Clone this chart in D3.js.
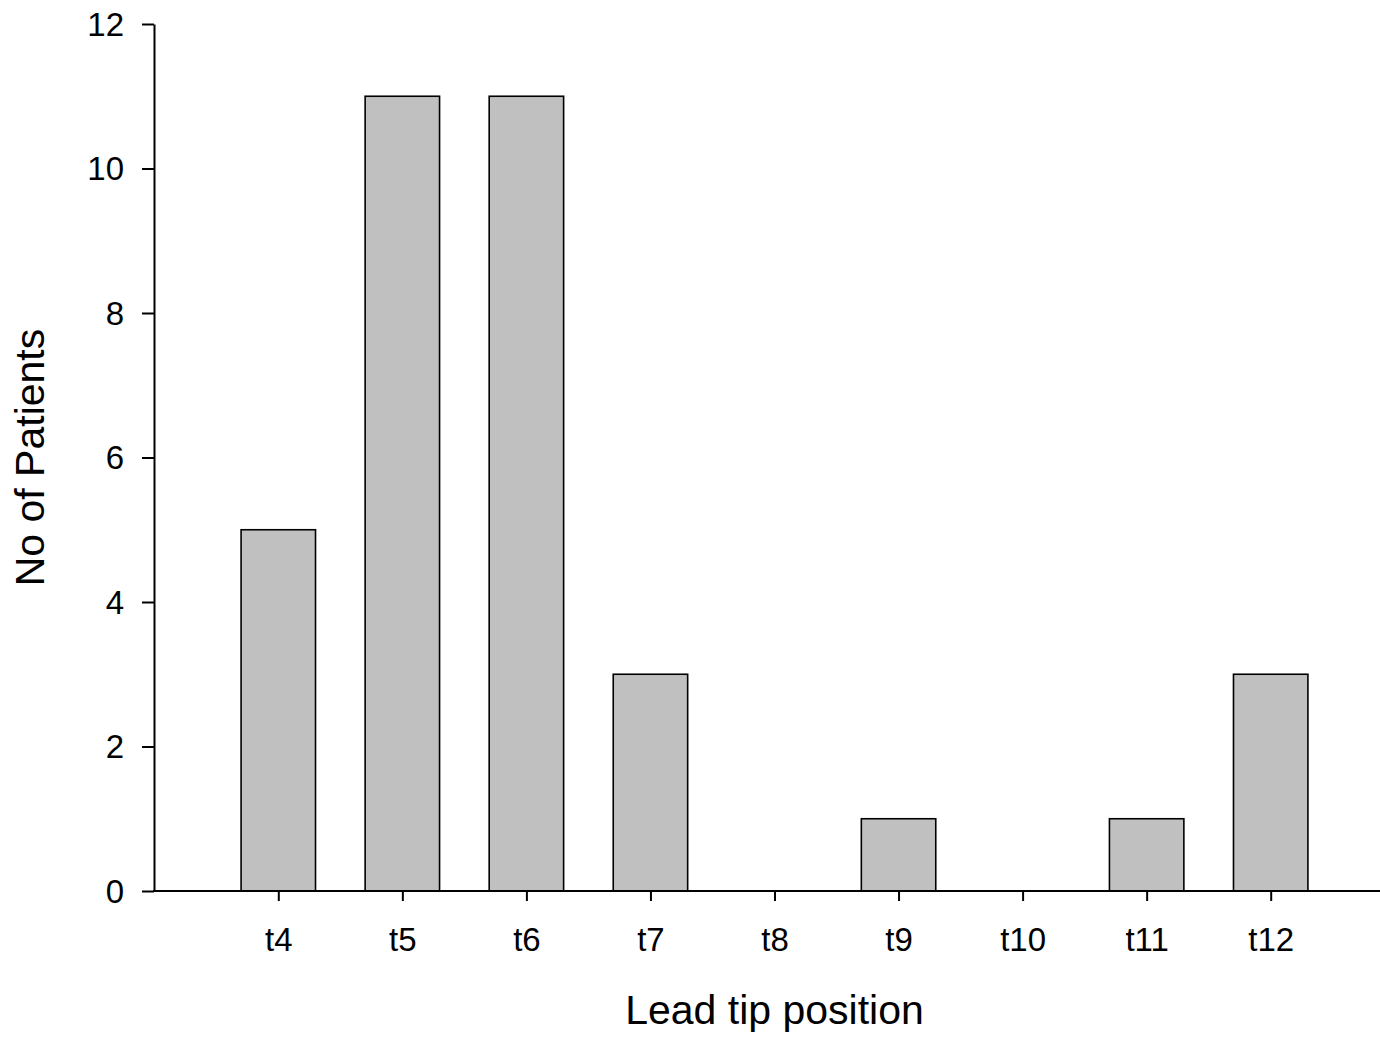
<!DOCTYPE html>
<html>
<head>
<meta charset="utf-8">
<script src="https://cdn.jsdelivr.net/npm/d3@7"></script>
<style>
  body { margin: 0; background: #fff; }
  svg text { font-family: "Liberation Sans", Arial, sans-serif; fill: #000; }
</style>
</head>
<body>
<div id="chart"></div>
<script>
var categories = ["t4", "t5", "t6", "t7", "t8", "t9", "t10", "t11", "t12"];
var patients = [5, 11, 11, 3, 0, 1, 0, 1, 3];
var yTicks = [0, 2, 4, 6, 8, 10, 12];

var width = 1380, height = 1037;
var axisLeft = 154, axisRight = 1380, plotTop = 24, plotBottom = 891;

var svg = d3.select("#chart")
	.append("svg")
	.attr("width", width)
	.attr("height", height);

var x = d3.scalePoint()
	.domain(categories)
	.range([278.3, 1270.7]);
var barW = x.step() * 0.6;

var y = d3.scaleLinear()
	.domain([0, 12])
	.range([plotBottom, plotTop]);

// bars
svg.append("g")
	.selectAll("rect")
	.data(categories)
	.enter()
	.append("rect")
	.attr("x", function(d) { return x(d) - barW / 2; })
	.attr("y", function(d, i) { return y(patients[i]); })
	.attr("width", barW)
	.attr("height", function(d, i) { return y(0) - y(patients[i]); })
	.style("fill", "#c0c0c0")
	.style("stroke", "#000")
	.style("stroke-width", 1.6);

// y axis
var yAxis = svg.append("g")
	.attr("transform", "translate(" + axisLeft + ",0)")
	.call(d3.axisLeft(y).tickValues(yTicks).tickSize(12).tickSizeOuter(0).tickPadding(18));
yAxis.selectAll("line, path").style("stroke", "#000").style("stroke-width", 2);
yAxis.selectAll("text").style("font-size", "33px").attr("dy", "0.34em");

// x axis
var xAxis = svg.append("g")
	.attr("transform", "translate(0," + plotBottom + ")")
	.call(d3.axisBottom(x).tickSize(10).tickPadding(27));
xAxis.select(".domain").remove();
xAxis.selectAll("line").style("stroke", "#000").style("stroke-width", 2);
xAxis.selectAll("text").style("font-size", "33px");

svg.append("line")
	.attr("x1", axisLeft - 1)
	.attr("x2", axisRight)
	.attr("y1", plotBottom)
	.attr("y2", plotBottom)
	.style("stroke", "#000")
	.style("stroke-width", 2);

// titles
svg.append("text")
	.attr("x", x("t8"))
	.attr("y", 1024)
	.attr("text-anchor", "middle")
	.style("font-size", "41px")
	.text("Lead tip position");

svg.append("text")
	.attr("transform", "translate(44," + (plotTop + plotBottom) / 2 + ") rotate(-90)")
	.attr("text-anchor", "middle")
	.style("font-size", "41px")
	.text("No of Patients");
</script>
</body>
</html>
